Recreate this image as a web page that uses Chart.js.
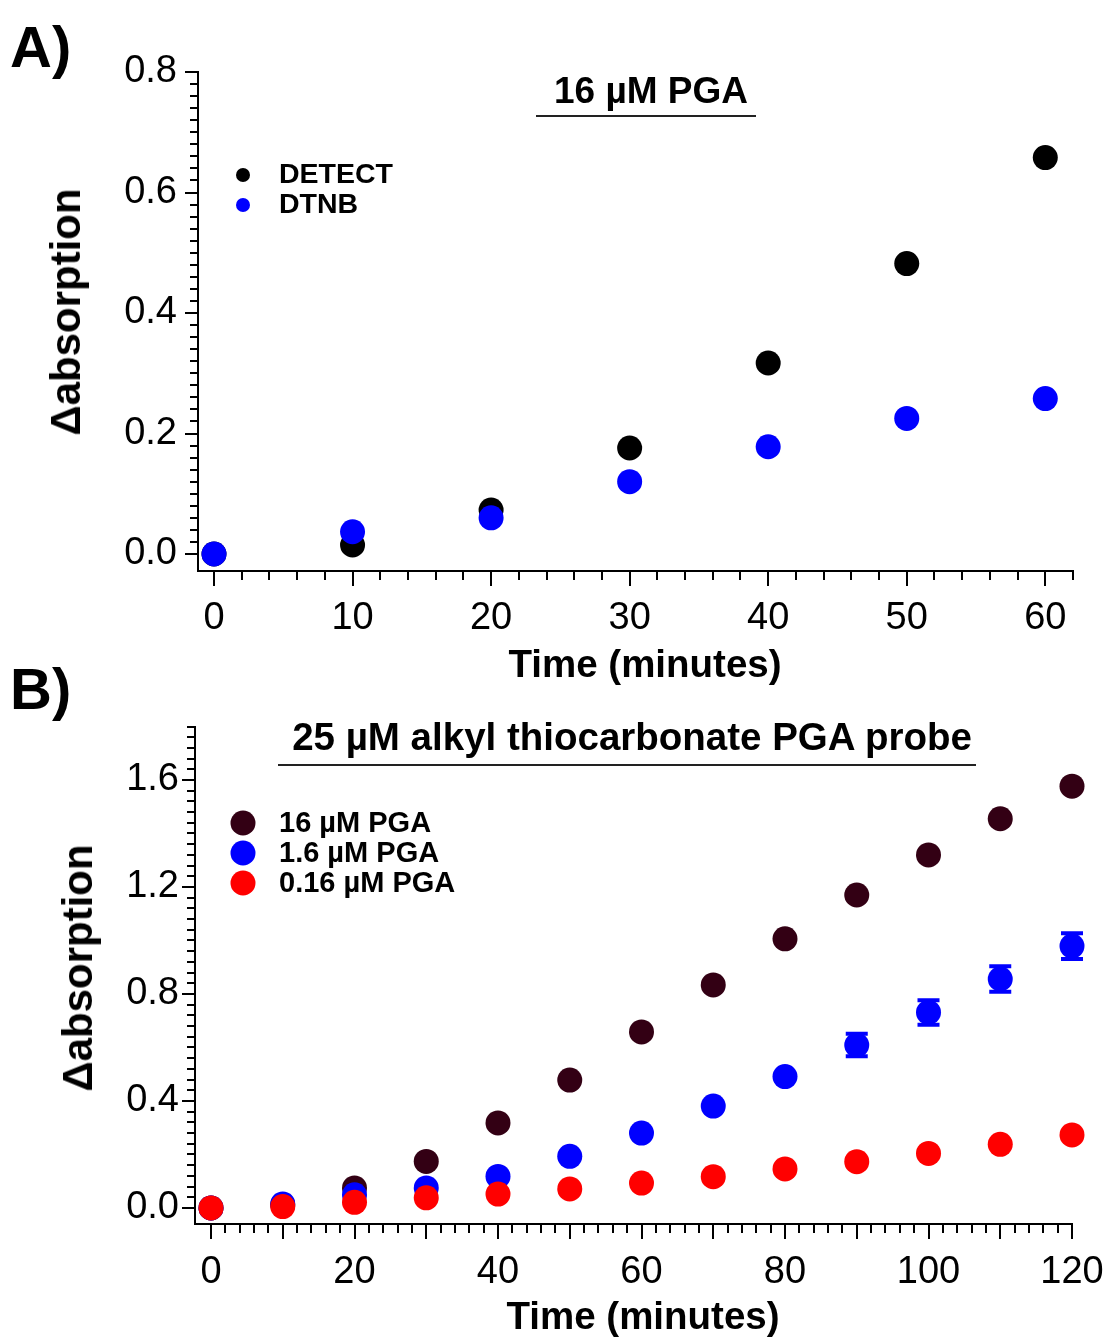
<!DOCTYPE html>
<html>
<head>
<meta charset="utf-8">
<script src="https://cdn.jsdelivr.net/npm/chart.js@4.4.1/dist/chart.umd.min.js"></script>
<style>
  html, body { margin:0; padding:0; background:#fff; }
  #page { position:relative; width:1110px; height:1338px; overflow:hidden; background:#fff; font-family:'Liberation Sans', Arial, Helvetica, sans-serif; color:#000; }
  .box { position:absolute; left:0; width:1110px; }
  .t { position:absolute; line-height:1; white-space:nowrap; }
  .b { font-weight:bold; }
  .c { transform:translate(-50%,-50%); }
  .l { transform:translateY(-50%); }
  .rot { transform:translate(-50%,-50%) rotate(-90deg); }
  .rule { position:absolute; height:2px; background:#222; }
  .dot { position:absolute; border-radius:50%; transform:translate(-50%,-50%); }
</style>
</head>
<body>
<div id="page">
  <div class="box" style="top:0;height:690px"><canvas id="chartA"></canvas></div>
  <div class="box" style="top:690px;height:648px"><canvas id="chartB"></canvas></div>

  <div class="t b" style="left:10px;top:18px;font-size:58px">A)</div>
  <div class="t b" style="left:10px;top:660px;font-size:58px">B)</div>

  <div class="t b c" style="left:651px;top:90px;font-size:37px">16 µM PGA</div>
  <div class="rule" style="left:536px;top:115px;width:220px"></div>
  <div class="t b c" style="left:632px;top:737px;font-size:38.5px">25 µM alkyl thiocarbonate PGA probe</div>
  <div class="rule" style="left:278px;top:764px;width:698px"></div>

  <div class="dot" style="left:243px;top:175px;width:14px;height:14px;background:#000"></div>
  <div class="t b l" style="left:279px;top:173px;font-size:28.5px">DETECT</div>
  <div class="dot" style="left:243px;top:205px;width:14px;height:14px;background:#0000ff"></div>
  <div class="t b l" style="left:279px;top:203px;font-size:28.5px">DTNB</div>

  <div class="dot" style="left:243px;top:823px;width:25px;height:25px;background:#330014"></div>
  <div class="t b l" style="left:279px;top:822px;font-size:29px">16 µM PGA</div>
  <div class="dot" style="left:243px;top:853px;width:25px;height:25px;background:#0000ff"></div>
  <div class="t b l" style="left:279px;top:852px;font-size:29px">1.6 µM PGA</div>
  <div class="dot" style="left:243px;top:883px;width:25px;height:25px;background:#ff0000"></div>
  <div class="t b l" style="left:279px;top:882px;font-size:29px">0.16 µM PGA</div>

  <div class="t b rot" style="left:66px;top:312px;font-size:42px">Δabsorption</div>
  <div class="t b rot" style="left:78px;top:968px;font-size:42px">Δabsorption</div>
  <div class="t b c" style="left:645px;top:664px;font-size:38.5px">Time (minutes)</div>
  <div class="t b c" style="left:643px;top:1316px;font-size:38.5px">Time (minutes)</div>
</div>

<script>
// ---- panel A data ----
const timeA = [0, 10, 20, 30, 40, 50, 60];
const detect = [0, 0.015, 0.073, 0.176, 0.317, 0.482, 0.658];
const dtnb = [0, 0.037, 0.060, 0.120, 0.178, 0.225, 0.258];
const xMajorA = [0, 10, 20, 30, 40, 50, 60];
const xLabelsA = ['0', '10', '20', '30', '40', '50', '60'];
const yMajorA = [0, 0.2, 0.4, 0.6, 0.8];
const yLabelsA = ['0.0', '0.2', '0.4', '0.6', '0.8'];

// ---- panel B data ----
const timeB = [0, 10, 20, 30, 40, 50, 60, 70, 80, 90, 100, 110, 120];
const pga16 = [0, 0.012, 0.075, 0.174, 0.318, 0.478, 0.658, 0.834, 1.006, 1.17, 1.32, 1.455, 1.577];
const pga1_6 = [0, 0.015, 0.049, 0.075, 0.118, 0.193, 0.280, 0.381, 0.491, 0.609, 0.731, 0.856, 0.979];
const pga1_6Err = [0, 0, 0, 0, 0, 0, 0, 0, 0, 0.042, 0.046, 0.048, 0.048];
const pga0_16 = [0, 0.005, 0.021, 0.038, 0.052, 0.071, 0.093, 0.117, 0.146, 0.173, 0.204, 0.238, 0.273];
const xMajorB = [0, 20, 40, 60, 80, 100, 120];
const xLabelsB = ['0', '20', '40', '60', '80', '100', '120'];
const yMajorB = [0, 0.4, 0.8, 1.2, 1.6];
const yLabelsB = ['0.0', '0.4', '0.8', '1.2', '1.6'];

Chart.defaults.font.family = "'Liberation Sans', Arial, Helvetica, sans-serif";
Chart.defaults.color = '#000';

const near = (a, b) => Math.abs(a - b) < 1e-6;
function steps(from, to, step) {
  const out = [];
  const n = Math.round((to - from) / step);
  for (let i = 0; i <= n; i++) out.push(+(from + i * step).toFixed(6));
  return out;
}
const pts = (xs, ys) => xs.map((x, i) => ({ x: x, y: ys[i] }));

// tick marks: long at "long" multiples, short elsewhere, pointing outwards
const tickMarks = {
  id: 'tickMarks',
  afterDraw(chart, args, o) {
    const ctx = chart.ctx, a = chart.chartArea;
    const xs = chart.scales.x, ys = chart.scales.y;
    ctx.save();
    ctx.strokeStyle = '#000';
    ctx.lineWidth = 2;
    ctx.beginPath();
    xs.ticks.forEach(t => {
      const px = Math.round(xs.getPixelForValue(t.value));
      const len = near(t.value / o.xLong, Math.round(t.value / o.xLong)) ? 15 : 9;
      ctx.moveTo(px, a.bottom); ctx.lineTo(px, a.bottom + len);
    });
    ys.ticks.forEach(t => {
      const py = Math.round(ys.getPixelForValue(t.value));
      const len = near(t.value / o.yLong, Math.round(t.value / o.yLong)) ? 13 : 8;
      ctx.moveTo(a.left, py); ctx.lineTo(a.left - len, py);
    });
    ctx.stroke();
    ctx.restore();
  }
};

// capped error bars for the 1.6 µM series
const errorBars = {
  id: 'errorBars',
  afterDatasetsDraw(chart, args, o) {
    if (!o.errors) return;
    const ctx = chart.ctx, xs = chart.scales.x, ys = chart.scales.y;
    const ds = chart.data.datasets[o.dataset];
    ctx.save();
    ctx.strokeStyle = ds.backgroundColor;
    ctx.lineWidth = 4;
    ds.data.forEach((p, i) => {
      const e = o.errors[i];
      if (!e) return;
      const px = xs.getPixelForValue(p.x);
      const top = ys.getPixelForValue(p.y + e), bot = ys.getPixelForValue(p.y - e);
      ctx.beginPath();
      ctx.moveTo(px, top); ctx.lineTo(px, bot);
      ctx.moveTo(px - 11, top); ctx.lineTo(px + 11, top);
      ctx.moveTo(px - 11, bot); ctx.lineTo(px + 11, bot);
      ctx.stroke();
    });
    ctx.restore();
  }
};

function axis(min, max, tickVals, majors, labels, size, pad) {
  return {
    type: 'linear', min: min, max: max,
    afterBuildTicks: s => { s.ticks = tickVals.map(v => ({ value: v })); },
    grid: { display: false, drawTicks: true, tickLength: 14 },
    border: { display: true, color: '#000', width: 2 },
    ticks: {
      autoSkip: false, maxRotation: 0, minRotation: 0, padding: pad,
      font: { size: 38 }, color: '#000',
      callback: v => { const i = majors.findIndex(m => near(m, v)); return i >= 0 ? labels[i] : ''; }
    },
    // fixed axis box; labels may overhang the plot edges without shrinking it
    afterFit: s => {
      Object.assign(s, size);
      s.paddingLeft = 0; s.paddingRight = 0; s.paddingTop = 0; s.paddingBottom = 0;
    }
  };
}

function makeChart(id, datasets, scales, padding, pluginOpts) {
  return new Chart(document.getElementById(id), {
    type: 'scatter',
    data: { datasets: datasets },
    options: {
      responsive: true, maintainAspectRatio: false, animation: false, events: [],
      layout: { padding: padding },
      plugins: Object.assign({ legend: { display: false }, tooltip: { enabled: false } }, pluginOpts),
      scales: scales
    },
    plugins: [tickMarks, errorBars]
  });
}

function dot(label, data, color, order) {
  return { label: label, data: data, backgroundColor: color, borderWidth: 0,
           pointRadius: 12.5, pointHoverRadius: 12.5, order: order, clip: false };
}

// ---- Panel A ----
makeChart('chartA', [
  dot('DETECT', pts(timeA, detect), '#000000', 1),
  dot('DTNB', pts(timeA, dtnb), '#0000ff', 0)
], {
  x: axis(-1.155, 62, steps(0, 62, 2), xMajorA, xLabelsA, { height: 119 }, 11),
  y: axis(-0.0282, 0.8, steps(0, 0.8, 0.02), yMajorA, yLabelsA, { width: 198 }, 7)
}, { top: 72, right: 37, left: 0, bottom: 0 },
{ tickMarks: { xLong: 10, yLong: 0.2 }, errorBars: {} });

// ---- Panel B ----
makeChart('chartB', [
  dot('16 µM PGA', pts(timeB, pga16), '#330014', 2),
  dot('1.6 µM PGA', pts(timeB, pga1_6), '#0000ff', 1),
  dot('0.16 µM PGA', pts(timeB, pga0_16), '#ff0000', 0)
], {
  x: axis(-2.23, 120, steps(0, 120, 2), xMajorB, xLabelsB, { height: 114 }, 12),
  y: axis(-0.06, 1.8, steps(0, 1.8, 0.04), yMajorB, yLabelsB, { width: 195 }, 2)
}, { top: 36.5, right: 38, left: 0, bottom: 0 },
{ tickMarks: { xLong: 10, yLong: 0.4 }, errorBars: { dataset: 1, errors: pga1_6Err } });
</script>
</body>
</html>
